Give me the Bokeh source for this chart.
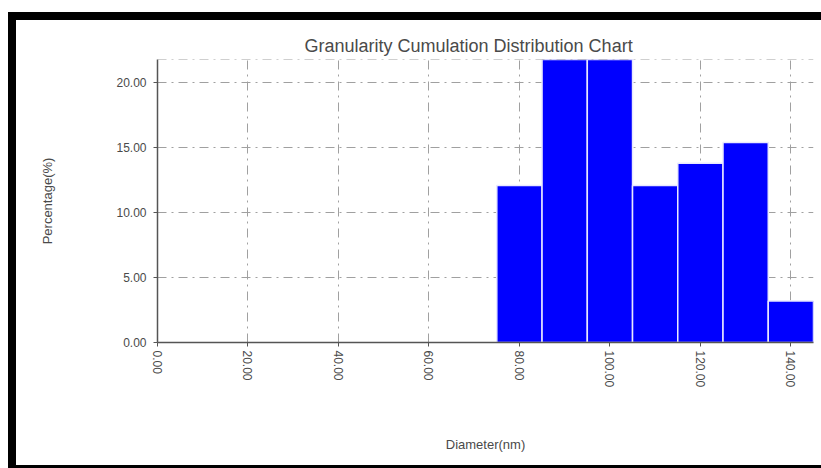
import math

from bokeh.embed import file_html
from bokeh.models import ColumnDataSource, FixedTicker, Span, Range1d, CustomJSTickFormatter
from bokeh.plotting import figure
from bokeh.resources import INLINE

# Particle size histogram (diameter bin centres in nm, percentage per bin)
diameters = [80, 90, 100, 110, 120, 130, 140]
percentages = [12.1, 21.8, 21.8, 12.1, 13.8, 15.4, 3.2]
x_ticks = [0, 20, 40, 60, 80, 100, 120, 140]
y_ticks = [0, 5, 10, 15, 20]

FONT = "Liberation Sans"
TEXT = "#4a4a4a"

source = ColumnDataSource(data=dict(x=diameters, top=percentages))
y_max = max(percentages)

p = figure(
    width=805, height=445,
    x_range=Range1d(0, 145), y_range=Range1d(0, y_max),
    output_backend="svg", toolbar_location=None,
    min_border_left=141, min_border_right=16,
    min_border_top=39, min_border_bottom=134,
)
# black frame around the chart panel (top, left and bottom edges)
p.styles = {
    "box-sizing": "content-box",
    "margin-top": "12px",
    "margin-left": "8px",
    "border-top": "8px solid black",
    "border-left": "8px solid black",
    "border-bottom": "3px solid black",
}

p.title.text = "Granularity Cumulation Distribution  Chart"
p.title.align = "left"
p.title.text_font = FONT
p.title.text_font_size = "18px"
p.title.text_font_style = "normal"
p.title.text_color = TEXT
p.title.offset = 147
p.title.standoff = 8

p.vbar(x="x", top="top", width=10, source=source,
       fill_color="#0000ff", line_color="#e8e8ff", line_width=1.5)

p.outline_line_color = None
p.background_fill_color = "white"
p.border_fill_color = "white"

for g in (p.xgrid[0], p.ygrid[0]):
    g.grid_line_color = "#a0a0a0"
    g.grid_line_dash = "9 5 2 5"
    g.grid_line_width = 1
p.xgrid[0].ticker = FixedTicker(ticks=x_ticks)
p.ygrid[0].ticker = FixedTicker(ticks=y_ticks)

p.add_layout(Span(location=y_max, dimension="width", line_color="#a0a0a0",
                  line_dash="9 5 2 5", line_width=1))

fmt = CustomJSTickFormatter(code="return tick.toFixed(2);")

xa = p.xaxis[0]
xa.ticker = FixedTicker(ticks=x_ticks)
xa.formatter = fmt
xa.major_label_orientation = -math.pi / 2
xa.axis_label = "Diameter(nm)"
xa.axis_label_standoff = 47

ya = p.yaxis[0]
ya.ticker = FixedTicker(ticks=y_ticks)
ya.formatter = fmt
ya.axis_label = "Percentage(%)"
ya.axis_label_standoff = 58

for ax in (xa, ya):
    ax.axis_line_color = "#555555"
    ax.axis_line_width = 1.5
    ax.major_tick_line_color = "#555555"
    ax.major_tick_out = 4
    ax.major_tick_in = 0
    ax.minor_tick_line_color = None
    ax.major_label_text_font = FONT
    ax.major_label_text_font_size = "12px"
    ax.major_label_text_color = TEXT
    ax.major_label_standoff = 4
    ax.axis_label_text_font = FONT
    ax.axis_label_text_font_size = "13px"
    ax.axis_label_text_font_style = "normal"
    ax.axis_label_text_color = TEXT
ya.major_label_standoff = 7

open("out.html", "w").write(file_html(p, INLINE))
